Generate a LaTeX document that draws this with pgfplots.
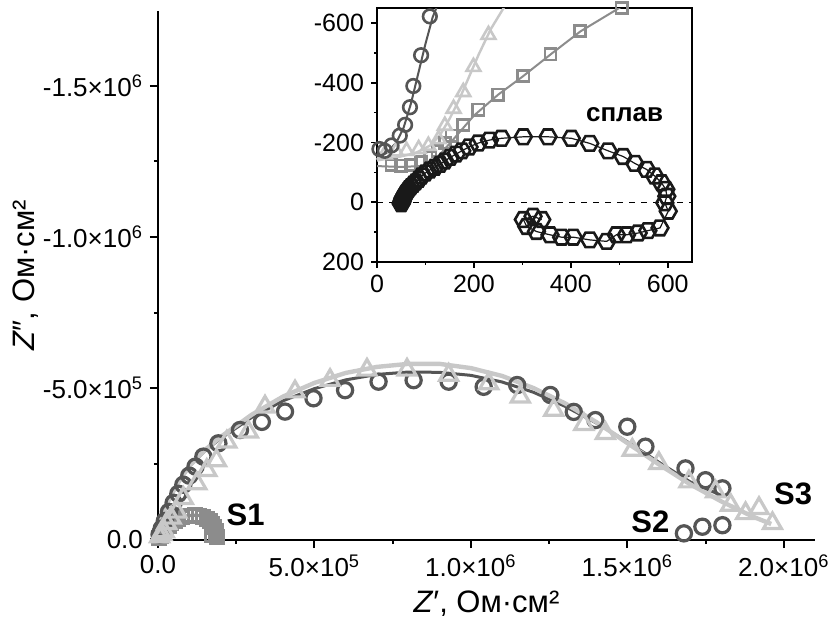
\documentclass[border=0pt]{standalone}
\usepackage{fontspec}
\setmainfont{Liberation Sans}
\usepackage{pgfplots}
\pgfplotsset{compat=1.18}
\usetikzlibrary{plotmarks}

\definecolor{sone}{RGB}{140,140,140}
\definecolor{stwo}{RGB}{85,85,85}
\definecolor{sthree}{RGB}{200,200,200}
\definecolor{alloy}{RGB}{25,25,25}

\pgfdeclareplotmark{hexagon}{%
  \pgfpathmoveto{\pgfpointpolar{0}{\pgfplotmarksize}}%
  \pgfpathlineto{\pgfpointpolar{60}{\pgfplotmarksize}}%
  \pgfpathlineto{\pgfpointpolar{120}{\pgfplotmarksize}}%
  \pgfpathlineto{\pgfpointpolar{180}{\pgfplotmarksize}}%
  \pgfpathlineto{\pgfpointpolar{240}{\pgfplotmarksize}}%
  \pgfpathlineto{\pgfpointpolar{300}{\pgfplotmarksize}}%
  \pgfpathclose
  \pgfusepathqstroke}

\newcommand{\bigfont}{\fontsize{13}{15}\selectfont}
\newcommand{\labfont}{\fontsize{15.5}{18}\selectfont}
\newcommand{\smallfont}{\fontsize{12.5}{14}\selectfont}

\begin{document}
\begin{tikzpicture}
% main plot
\begin{axis}[
    name=main, at={(0,0)}, anchor=south west,
    scale only axis, width=328.5pt, height=264.5pt,
    axis lines*=left,
    axis line style={line width=1pt},
    xmin=0, xmax=2.1e6,
    ymin=-1.748e6, ymax=3e3,
    y dir=reverse,
    scaled x ticks=false, scaled y ticks=false,
    xtick={0,5e5,1e6,1.5e6,2e6},
    xticklabels={0.0, 5.0×10\textsuperscript{5}, 1.0×10\textsuperscript{6}, 1.5×10\textsuperscript{6}, 2.0×10\textsuperscript{6}},
    ytick={-1.5e6,-1e6,-5e5,0},
    yticklabels={-1.5×10\textsuperscript{6}, -1.0×10\textsuperscript{6}, -5.0×10\textsuperscript{5}, 0.0},
    minor tick num=1,
    tick align=outside,
    major tick length=4pt, minor tick length=2pt,
    every tick/.style={black, line width=1pt},
    tick label style={font=\bigfont},
    label style={font=\labfont},
    xlabel={\textit{Z}′, Ом·см²},
    ylabel={\textit{Z}″, Ом·см²},
    ylabel style={at={(axis description cs:-0.2009,0.5)}, anchor=center},
    clip=false,
]
% S1
\addplot[sone, line width=1.6pt, mark=square, mark size=3.2pt, mark options={solid}] coordinates {
 (4e3,-4e3) (8e3,-1e4) (1.3e4,-1.8e4) (1.9e4,-2.7e4) (2.6e4,-3.6e4) (3.4e4,-4.5e4)
 (4.3e4,-5.3e4) (5.3e4,-6e4) (6.4e4,-6.7e4) (7.6e4,-7.2e4) (8.9e4,-7.6e4) (1.03e5,-7.8e4)
 (1.17e5,-7.9e4) (1.31e5,-7.8e4) (1.44e5,-7.4e4) (1.56e5,-6.8e4) (1.66e5,-6e4)
 (1.74e5,-5e4) (1.8e5,-3.9e4) (1.84e5,-2.8e4) (1.86e5,-1.8e4) (1.87e5,-8e3) (1.73e5,-1.3e4)
};
% S2 fit
\addplot[stwo, line width=1.5pt] coordinates {
 (0,0) (1e4,-6e4) (3e4,-1.2e5) (6e4,-1.8e5) (1e5,-2.4e5) (1.5e5,-2.92e5) (2e5,-3.33e5)
 (3e5,-4.03e5) (4e5,-4.58e5) (5e5,-4.98e5) (6e5,-5.27e5) (7e5,-5.45e5) (8e5,-5.53e5)
 (9e5,-5.52e5) (1e6,-5.42e5) (1.1e6,-5.2e5) (1.2e6,-4.86e5) (1.3e6,-4.4e5)
 (1.4e6,-3.85e5) (1.5e6,-3.22e5) (1.6e6,-2.55e5) (1.7e6,-1.9e5) (1.8e6,-1.45e5)
};
% S2 data
\addplot[only marks, stwo, mark=o, mark size=3.8pt, line width=1.6pt] coordinates {
 (5e3,-1.5e4) (1.2e4,-3.5e4) (2.2e4,-6e4) (3.5e4,-9e4) (5e4,-1.2e5) (6.5e4,-1.5e5)
 (8.1e4,-1.8e5) (1e5,-2.1e5) (1.2e5,-2.4e5) (1.45e5,-2.73e5) (1.93e5,-3.17e5)
 (2.62e5,-3.61e5) (3.32e5,-3.88e5) (4.06e5,-4.22e5) (4.97e5,-4.66e5) (5.98e5,-4.93e5)
 (7.05e5,-5.21e5) (8.17e5,-5.26e5) (9.29e5,-5.21e5) (1.041e6,-5.04e5) (1.148e6,-5.1e5)
 (1.254e6,-4.77e5) (1.329e6,-4.21e5) (1.398e6,-3.94e5) (1.5e6,-3.72e5) (1.558e6,-3.06e5)
 (1.686e6,-2.34e5) (1.75e6,-1.95e5) (1.804e6,-1.68e5)
 (1.681e6,-1.9e4) (1.74e6,-4.1e4) (1.804e6,-4.6e4)
};
% S3 fit
\addplot[sthree, line width=2.2pt] coordinates {
 (0,0) (1e4,-6e4) (3e4,-1.2e5) (6e4,-1.8e5) (1e5,-2.42e5) (1.5e5,-2.95e5) (2e5,-3.38e5)
 (3e5,-4.12e5) (4e5,-4.72e5) (5e5,-5.17e5) (6e5,-5.5e5) (7e5,-5.7e5) (8e5,-5.8e5)
 (9e5,-5.8e5) (1e6,-5.66e5) (1.1e6,-5.4e5) (1.2e6,-5.0e5) (1.3e6,-4.5e5)
 (1.4e6,-3.88e5) (1.5e6,-3.18e5) (1.6e6,-2.48e5) (1.7e6,-1.82e5) (1.8e6,-1.25e5)
 (1.9e6,-7.5e4) (1.96e6,-5e4)
};
% S3 data
\addplot[only marks, sthree, mark=triangle, mark size=5.2pt, line width=1.6pt, mark options={fill=white}] coordinates {
 (5e3,-8e3) (1.2e4,-1.6e4) (2e4,-2.5e4) (2.8e4,-5.2e4) (4.2e4,-7e4) (6e4,-9e4)
 (8.1e4,-1.35e5) (1.24e5,-1.84e5) (1.56e5,-2.28e5) (1.87e5,-2.6e5) (2.2e5,-3.22e5)
 (2.89e5,-3.55e5) (3.42e5,-4.38e5) (4.38e5,-4.88e5) (5.5e5,-5.26e5) (6.68e5,-5.6e5)
 (7.96e5,-5.6e5) (9.29e5,-5.43e5) (1.057e6,-5.15e5) (1.158e6,-4.71e5) (1.265e6,-4.27e5)
 (1.361e6,-3.8e5) (1.43e6,-3.5e5) (1.516e6,-2.95e5) (1.601e6,-2.51e5) (1.697e6,-1.9e5)
 (1.782e6,-1.57e5) (1.83e6,-1.13e5) (1.878e6,-8.5e4) (1.921e6,-1.02e5) (1.964e6,-5.2e4)
};
\node[font=\bfseries\labfont] at (axis cs:2.8e5,-8.1e4) {S1};
\node[font=\bfseries\labfont] at (axis cs:1.574e6,-5.8e4) {S2};
\node[font=\bfseries\labfont] at (axis cs:2.03e6,-1.49e5) {S3};
\end{axis}

% inset
\begin{axis}[
    at={(109.5pt,139pt)}, anchor=south west,
    scale only axis, width=157.5pt, height=127pt,
    axis line style={line width=0.8pt},
    xmin=0, xmax=650,
    ymin=-650, ymax=200,
    y dir=reverse,
    xtick={0,200,400,600},
    xticklabels={0,200,400,600},
    ytick={-600,-400,-200,0,200},
    yticklabels={-600,-400,-200,0,200},
    xtick pos=bottom, ytick pos=left,
    minor tick num=1,
    tick align=outside,
    major tick length=3pt, minor tick length=1.5pt,
    every tick/.style={black, line width=0.8pt},
    tick label style={font=\smallfont},
    axis background/.style={fill=white},
]
\addplot[black, dashed, line width=0.6pt] coordinates {(0,0) (650,0)};
% S1
\addplot[sone, line width=1pt] coordinates {
 (0,-121) (50,-118) (100,-122) (130,-160) (160,-215) (200,-290) (250,-360)
 (300,-420) (360,-497) (420,-572) (510,-660)
};
\addplot[only marks, sone, mark=square, mark size=2.8pt, line width=1.3pt] coordinates {
 (30,-125) (50,-122) (70,-125) (90,-135) (110,-150) (125,-172) (140,-198) (154,-223)
 (178,-259) (209,-310) (250,-360) (302,-423) (358,-495) (419,-573) (505,-650)
};
% S3
\addplot[sthree, line width=1.2pt] coordinates {
 (0,-140) (40,-150) (80,-165) (110,-190) (130,-225) (150,-280) (170,-345)
 (190,-420) (210,-495) (235,-580) (265,-660)
};
\addplot[only marks, sthree, mark=triangle, mark size=4pt, line width=1.3pt] coordinates {
 (16,-160) (39,-170) (61,-172) (86,-178) (106,-189) (127,-211) (140,-256)
 (158,-313) (178,-369) (199,-453) (230,-560)
};
% S2
\addplot[stwo, line width=1pt] coordinates {
 (0,-150) (20,-165) (40,-200) (55,-250) (70,-330) (85,-430) (100,-530) (115,-620) (125,-660)
};
\addplot[only marks, stwo, mark=o, mark size=3.4pt, line width=1.3pt] coordinates {
 (5,-178) (16,-172) (30,-190) (47,-223) (58,-259) (68,-318) (75,-389) (91,-492) (109,-622)
};
% alloy
\addplot[alloy, line width=0.6pt, mark=hexagon, mark size=4.2pt, mark options={line width=1.3pt}] coordinates {
 (50,5) (51,0) (52,-5) (53,-10) (54,-15) (56,-20) (58,-26) (60,-32) (63,-38) (66,-45)
 (70,-52) (75,-60) (80,-68) (86,-77) (92,-88) (100,-98) (109,-108) (119,-117) (130,-127)
 (140,-138) (151,-150) (163,-161) (175,-172) (190,-185) (209,-198) (232,-208) (257,-214)
 (302,-219) (353,-219) (401,-214) (439,-197) (477,-172) (508,-153) (532,-130) (556,-110)
 (573,-88) (587,-65) (596,-43) (598,-20) (594,2) (601,30) (584,86) (559,95) (539,103)
 (515,109) (494,109) (474,131) (439,126) (405,117) (381,117) (357,109) (329,98)
 (309,81) (302,58) (322,47) (340,58)
};
\node[font=\bfseries\bigfont] at (axis cs:511,-292) {сплав};
\end{axis}

\pgfresetboundingbox
\path (-79pt,-42.5pt) rectangle (338pt,270pt);
\end{tikzpicture}
\end{document}
